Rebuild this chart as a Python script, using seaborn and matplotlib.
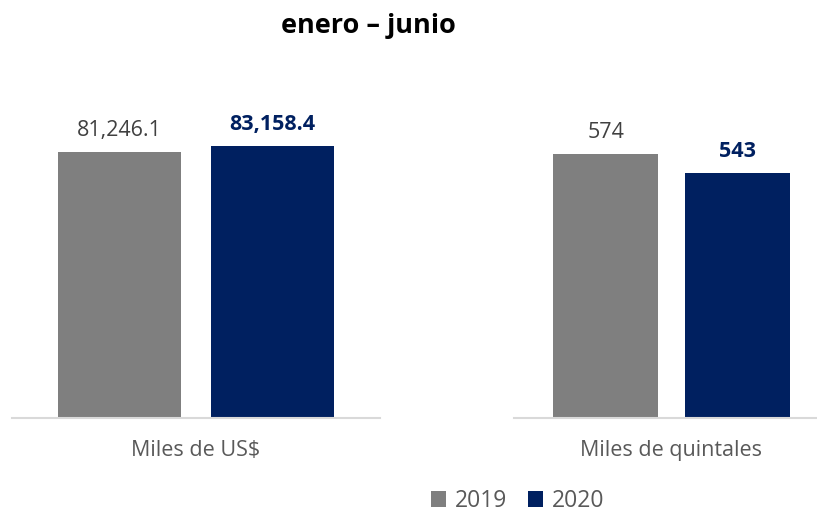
import matplotlib
matplotlib.use("Agg")
import matplotlib.pyplot as plt
from matplotlib.patches import Patch
import seaborn as sns

# data
years = ["2019", "2020"]
usd_values = [81246.1, 83158.4]
qq_values = [574, 543]
usd_labels = ["81,246.1", "83,158.4"]
qq_labels = ["574", "543"]
panel_titles = ["Miles de US$", "Miles de quintales"]
title = "enero – junio"

colors = ["#7F7F7F", "#002060"]
label_colors = ["#404040", "#002060"]
label_weights = ["normal", "bold"]

sns.set_theme(style="white")
plt.rcParams['font.family'] = ['Open Sans', 'DejaVu Sans']

fig = plt.figure(figsize=(8.17, 5.12), dpi=100)
W, H = 817, 512
base_y = 417.5
top_y = 60
ax1 = fig.add_axes([12 / W, (H - base_y) / H, 368 / W, (base_y - top_y) / H])
ax2 = fig.add_axes([514 / W, (H - base_y) / H, 315 / W, (base_y - top_y) / H])


def draw_panel(ax, values, labels, xlabel, ylim, xlim):
    sns.barplot(x=years, y=values, hue=years, palette=colors, width=0.8,
                legend=False, ax=ax, saturation=1, linewidth=0)
    ax.set_xlim(*xlim)
    ax.set_ylim(*ylim)
    for i, (v, lab) in enumerate(zip(values, labels)):
        ax.annotate(lab, (i, v), xytext=(0, 8), textcoords="offset points",
                    ha="center", va="bottom", fontsize=15.5,
                    color=label_colors[i], fontweight=label_weights[i])
    for side in ["top", "right", "left"]:
        ax.spines[side].set_visible(False)
    ax.spines["bottom"].set_color("#D9D9D9")
    ax.spines["bottom"].set_linewidth(1.5)
    ax.set_yticks([])
    ax.set_xticks([])
    ax.set_ylabel("")
    ax.set_xlabel(xlabel, fontsize=15.5, color="#595959", labelpad=16)


draw_panel(ax1, usd_values, usd_labels, panel_titles[0],
           (0, 109400), (-0.703, 1.702))
draw_panel(ax2, qq_values, qq_labels, panel_titles[1],
           (143.5, 727), (-0.70, 1.70))

fig.text(368 / W, 1 - 26 / H, title, ha="center", va="center",
         fontsize=19.5, fontweight="bold", color="#000000")

handles = [Patch(facecolor=c, edgecolor="none") for c in colors]
fig.legend(handles, years, loc="center", bbox_to_anchor=(518 / W, 11 / H),
           ncol=2, frameon=False, fontsize=16.5, handlelength=0.65,
           handleheight=0.65, handletextpad=0.4, columnspacing=0.9,
           labelcolor="#595959", borderpad=0)

fig.savefig("out.png", dpi=100)
